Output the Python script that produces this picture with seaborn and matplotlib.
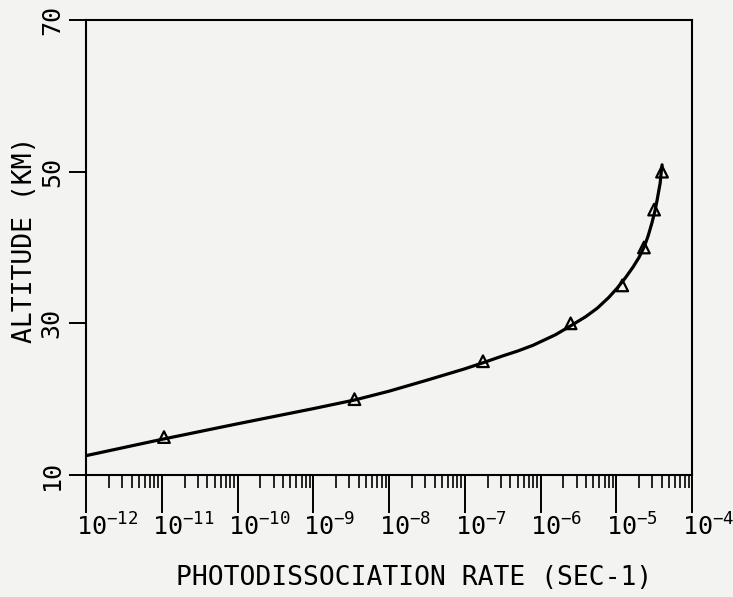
import matplotlib
matplotlib.use("Agg")
import matplotlib.pyplot as plt
import matplotlib.transforms as mtransforms
from matplotlib.ticker import FixedLocator, LogLocator, NullFormatter, FixedFormatter
import seaborn as sns
import pandas as pd

# ---- data ----
point_alt = [15, 20, 25, 30, 35, 40, 45, 50]
point_rate = [1.07e-11, 3.5e-9, 1.74e-7, 2.5e-6, 1.2e-5, 2.32e-5, 3.16e-5, 4.02e-5]

curve_alt = [12.55, 14.7, 16.75, 18.75, 19.9, 21.05, 22.5, 24.0, 24.8, 25.7,
             26.35, 27.1, 28.5, 29.8, 30.9, 32.0, 33.4, 34.6, 36.0, 37.4,
             38.7, 40.1, 41.5, 43.2, 44.8, 46.3, 47.4, 48.5, 49.6, 50.9]
curve_rate = [1.0e-12, 1.0e-11, 1.0e-10, 1.0e-9, 3.55e-9, 1.0e-8, 3.16e-8, 1.0e-7,
              1.74e-7, 3.16e-7, 5.01e-7, 7.94e-7, 1.58e-6, 2.63e-6, 3.98e-6,
              5.62e-6, 7.94e-6, 1.02e-5, 1.32e-5, 1.66e-5, 2.0e-5, 2.34e-5,
              2.63e-5, 2.95e-5, 3.24e-5, 3.47e-5, 3.63e-5, 3.80e-5, 3.89e-5, 4.03e-5]

x_tick_exps = [-12, -11, -10, -9, -8, -7, -6, -5, -4]
y_ticks = [10, 30, 50, 70]

x_label = "PHOTODISSOCIATION RATE (SEC-1)"
y_label = "ALTITUDE (KM)"

# ---- style ----
sns.set_style("white")
plt.rcParams["font.family"] = ["DejaVu Sans Mono", "DejaVu Sans"]
plt.rcParams["mathtext.fontset"] = "custom"
plt.rcParams["mathtext.rm"] = "DejaVu Sans Mono"
plt.rcParams["mathtext.default"] = "rm"
plt.rcParams["text.color"] = "black"

bg = "#f3f3f1"
fig = plt.figure(figsize=(7.33, 5.97), dpi=100, facecolor=bg)
ax = fig.add_axes([86 / 733, 1 - 475 / 597, (692 - 86) / 733, (475 - 20) / 597])
ax.set_facecolor(bg)

curve_df = pd.DataFrame({"rate": curve_rate, "alt": curve_alt})
pts_df = pd.DataFrame({"rate": point_rate, "alt": point_alt})

sns.lineplot(data=curve_df, x="rate", y="alt", ax=ax, color="black",
             linewidth=2.3, estimator=None, sort=False)
sns.scatterplot(data=pts_df, x="rate", y="alt", ax=ax, marker="^", s=70,
                facecolor="none", edgecolor="black", linewidth=1.6, zorder=3)

ax.set_xscale("log")
ax.set_xlim(1e-12, 1e-4)
ax.set_ylim(10, 70)

ax.xaxis.set_major_locator(FixedLocator([10.0 ** e for e in x_tick_exps]))
ax.xaxis.set_major_formatter(FixedFormatter([r"$10^{%d}$" % e for e in x_tick_exps]))
ax.xaxis.set_minor_locator(LogLocator(base=10, subs=[2, 3, 4, 5, 6, 7, 8, 9], numticks=50))
ax.xaxis.set_minor_formatter(NullFormatter())
ax.set_yticks(y_ticks)
ax.set_yticklabels([str(v) for v in y_ticks])

for s in ax.spines.values():
    s.set_color("black")
    s.set_linewidth(1.5)

ax.tick_params(axis="x", which="major", direction="out", length=27, width=1.4,
               pad=1, labelsize=18, colors="black", bottom=True, top=False)
ax.tick_params(axis="x", which="minor", direction="out", length=9, width=1.2,
               colors="black", bottom=True, top=False)
ax.tick_params(axis="y", which="major", direction="out", length=12, width=1.4,
               pad=4, labelsize=18, colors="black", left=True, right=False)

# shift x tick labels so that "10" sits on the tick with exponent to its right
offset = mtransforms.ScaledTranslation(-10 / 100, 0, fig.dpi_scale_trans)
for lbl in ax.get_xticklabels():
    lbl.set_horizontalalignment("left")
    lbl.set_transform(lbl.get_transform() + offset)
for lbl in ax.get_yticklabels():
    lbl.set_rotation(90)
    lbl.set_verticalalignment("center")

ax.set_xlabel("")
ax.set_ylabel("")
fig.text(414 / 733, 1 - 578 / 597, x_label, ha="center", va="center",
         fontsize=19, color="black")
fig.text(25 / 733, 1 - 240 / 597, y_label, ha="center", va="center",
         rotation=90, fontsize=19, color="black")

fig.savefig("out.png", dpi=100, facecolor=bg)
